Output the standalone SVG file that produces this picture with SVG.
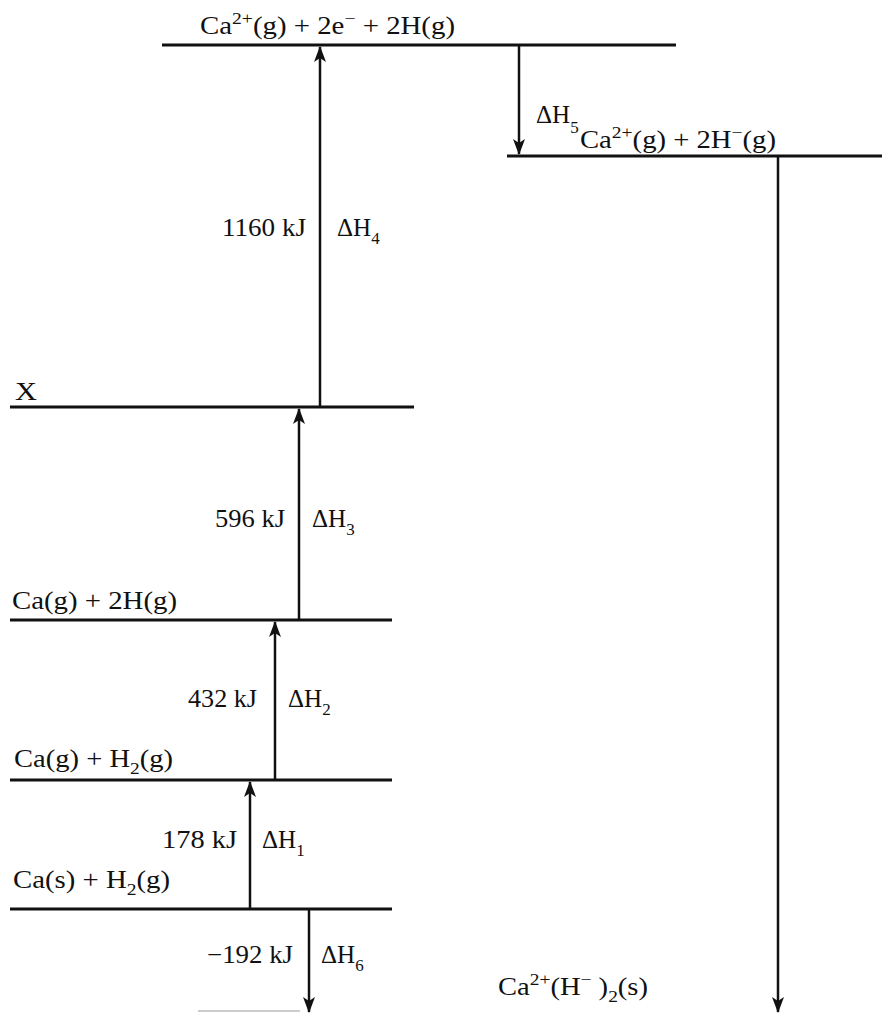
<svg xmlns="http://www.w3.org/2000/svg" width="882" height="1013" viewBox="0 0 882 1013">
<style>
text{font-family:"Liberation Serif","Times New Roman",serif;font-size:25px;fill:#111}
.lvl{stroke:#111;stroke-width:3;fill:none}
.arr{stroke:#111;stroke-width:2.5;fill:none}
.sub{font-size:17px}
</style>
<defs>
<marker id="ah" viewBox="0 0 16 12" refX="15" refY="6" markerWidth="16" markerHeight="12" markerUnits="userSpaceOnUse" orient="auto">
<path d="M16 6 L0 0 L4 6 L0 12 Z" fill="#111"/>
</marker>
</defs>
<g id="level-top">
<line class="lvl" x1="162" y1="45" x2="676" y2="45"/>
<text x="200" y="34" textLength="255" lengthAdjust="spacingAndGlyphs">Ca<tspan class="sub" dy="-10">2+</tspan><tspan dy="10">(g) + 2e</tspan><tspan class="sub" dy="-10">−</tspan><tspan dy="10"> + 2H(g)</tspan></text>
</g>
<g id="level-ions">
<line class="lvl" x1="507" y1="156" x2="882" y2="156"/>
<text x="580" y="148" textLength="196" lengthAdjust="spacingAndGlyphs">Ca<tspan class="sub" dy="-10">2+</tspan><tspan dy="10">(g) + 2H</tspan><tspan class="sub" dy="-10">−</tspan><tspan dy="10">(g)</tspan></text>
</g>
<g id="level-x">
<line class="lvl" x1="10" y1="407" x2="414" y2="407"/>
<text x="15" y="400" textLength="22" lengthAdjust="spacingAndGlyphs">X</text>
</g>
<g id="level-ca-g-2h">
<line class="lvl" x1="10" y1="620" x2="392" y2="620"/>
<text x="12" y="609" textLength="165" lengthAdjust="spacingAndGlyphs">Ca(g) + 2H(g)</text>
</g>
<g id="level-ca-g-h2">
<line class="lvl" x1="10" y1="780" x2="392" y2="780"/>
<text x="14" y="767" textLength="159" lengthAdjust="spacingAndGlyphs">Ca(g) + H<tspan class="sub" dy="7">2</tspan><tspan dy="-7">(g)</tspan></text>
</g>
<g id="level-ca-s-h2">
<line class="lvl" x1="10" y1="909" x2="392" y2="909"/>
<text x="13" y="888" textLength="157" lengthAdjust="spacingAndGlyphs">Ca(s) + H<tspan class="sub" dy="7">2</tspan><tspan dy="-7">(g)</tspan></text>
<line x1="198" y1="1011" x2="300" y2="1011" stroke="#bbb" stroke-width="1.5"/>
</g>
<g id="level-product">
<text x="498" y="995" textLength="150" lengthAdjust="spacingAndGlyphs">Ca<tspan class="sub" dy="-10">2+</tspan><tspan dy="10">(H</tspan><tspan class="sub" dy="-10">−</tspan><tspan dy="10"> )</tspan><tspan class="sub" dy="7">2</tspan><tspan dy="-7">(s)</tspan></text>
</g>
<g id="connectors">
<line class="arr" x1="320" y1="406" x2="320" y2="47" marker-end="url(#ah)"/>
<line class="arr" x1="519" y1="46" x2="519" y2="154" marker-end="url(#ah)"/>
<line class="arr" x1="778" y1="157" x2="778" y2="1012" marker-end="url(#ah)"/>
<line class="arr" x1="299" y1="619" x2="299" y2="409" marker-end="url(#ah)"/>
<line class="arr" x1="275" y1="779" x2="275" y2="622" marker-end="url(#ah)"/>
<line class="arr" x1="250" y1="908" x2="250" y2="782" marker-end="url(#ah)"/>
<line class="arr" x1="309" y1="910" x2="309" y2="1012" marker-end="url(#ah)"/>
</g>
<g id="labels">
<text x="222" y="236" textLength="84" lengthAdjust="spacingAndGlyphs">1160 kJ</text>
<text x="337" y="236">ΔH<tspan class="sub" dy="8">4</tspan></text>
<text x="215" y="527" textLength="70" lengthAdjust="spacingAndGlyphs">596 kJ</text>
<text x="312" y="527">ΔH<tspan class="sub" dy="8">3</tspan></text>
<text x="188" y="707" textLength="69" lengthAdjust="spacingAndGlyphs">432 kJ</text>
<text x="288" y="707">ΔH<tspan class="sub" dy="8">2</tspan></text>
<text x="162" y="848" textLength="75" lengthAdjust="spacingAndGlyphs">178 kJ</text>
<text x="262" y="848">ΔH<tspan class="sub" dy="8">1</tspan></text>
<text x="207" y="963" textLength="86" lengthAdjust="spacingAndGlyphs">−192 kJ</text>
<text x="321" y="963">ΔH<tspan class="sub" dy="8">6</tspan></text>
<text x="536" y="123">ΔH<tspan class="sub" dy="10">5</tspan></text>
</g>
</svg>
